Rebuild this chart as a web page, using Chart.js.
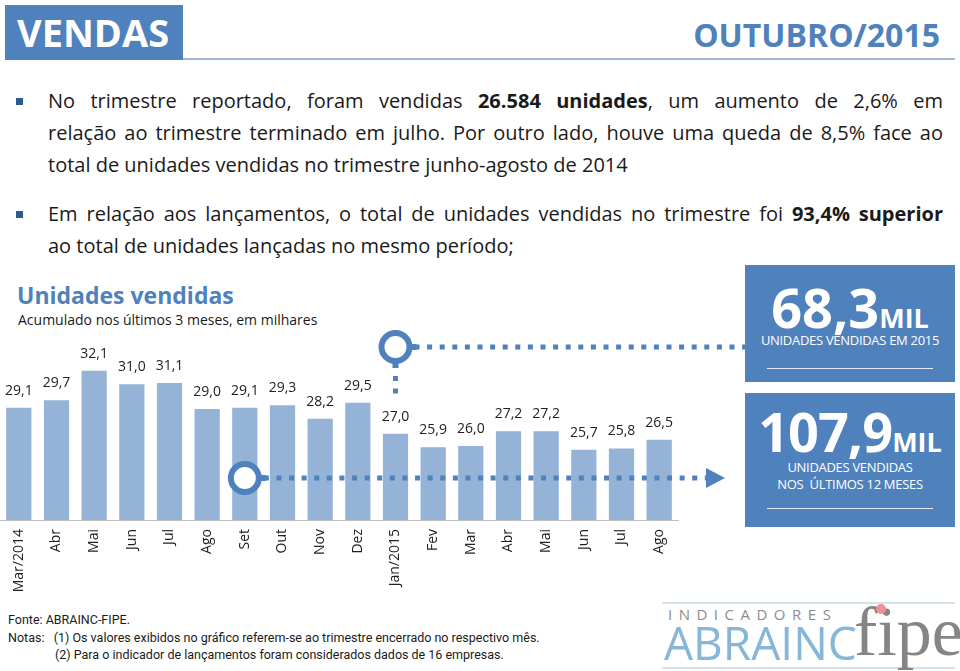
<!DOCTYPE html>
<html lang="pt-BR">
<head>
<meta charset="utf-8">
<title>Vendas - Outubro/2015</title>
<script src="https://cdn.jsdelivr.net/npm/chart.js@4.4.0/dist/chart.umd.min.js"></script>
<style>
  body { margin: 0; background: #fff; font-family: 'Open Sans', sans-serif; color: #1a1a1a; }
  #page { position: relative; width: 960px; height: 671px; overflow: hidden; }
  .abs { position: absolute; white-space: nowrap; }
  #hdrBox { left: 5px; top: 5px; width: 178px; height: 55px; background: #4F81BD; color: #fff;
            font-weight: 700; font-size: 38px; line-height: 55px; padding-left: 12px; box-sizing: border-box; }
  #hdrLine { left: 183px; top: 58px; width: 772px; height: 2px; background: #A3B7CF; }
  #hdrDate { right: 20px; top: 10px; color: #4F81BD; font-weight: 700; font-size: 32px; line-height: 50px; }
  .txt { left: 48px; width: 895px; font-size: 20px; line-height: 32px; text-align: justify; text-align-last: justify; }
  .txt.last { text-align-last: left; }
  .bul { left: 16px; width: 7px; height: 7px; background: #2E5C8A; }
  #title { left: 17px; top: 279px; color: #4F81BD; font-weight: 700; font-size: 23px; line-height: 32px; }
  #subtitle { left: 18px; top: 310px; font-size: 14px; line-height: 20px; color: #1a1a1a; }
  .panel { left: 745px; width: 210px; background: #4F81BD; color: #fff; }
  .panel div { position: absolute; left: 0; width: 210px; text-align: center; }
  .big { font-weight: 700; font-size: 54px; line-height: 54px; }
  .big span { font-size: 27px; line-height: 27px; letter-spacing: 0; }
  .cap { font-size: 13px; line-height: 16.5px; letter-spacing: -0.3px; }
  .panel .rule { left: 22px; width: 166px; height: 1px; background: #e4ecf6; }
  #footer { left: 8px; top: 611px; font-family: Roboto, sans-serif; font-size: 12.5px; line-height: 17.5px; color: #1a1a1a; }
  #chart { position: absolute; left: 0; top: 325px; }
</style>
</head>
<body>
<div id="page">
  <div class="abs" id="hdrBox">VENDAS</div>
  <div class="abs" id="hdrLine"></div>
  <div class="abs" id="hdrDate">OUTUBRO/2015</div>

  <div class="abs bul" style="top:98px"></div>
  <div class="abs txt" style="top:85px">No trimestre reportado, foram vendidas <b>26.584 unidades</b>, um aumento de 2,6% em</div>
  <div class="abs txt" style="top:117px">relação ao trimestre terminado em julho. Por outro lado, houve uma queda de 8,5% face ao</div>
  <div class="abs txt last" style="top:149px">total de unidades vendidas no trimestre junho-agosto de 2014</div>

  <div class="abs bul" style="top:211px"></div>
  <div class="abs txt" style="top:198px">Em relação aos lançamentos, o total de unidades vendidas no trimestre foi <b>93,4% superior</b></div>
  <div class="abs txt last" style="top:230px">ao total de unidades lançadas no mesmo período;</div>

  <div class="abs" id="title">Unidades vendidas</div>
  <div class="abs" id="subtitle">Acumulado nos últimos 3 meses, em milhares</div>

  <canvas id="chart" width="770" height="275"></canvas>

  <div class="abs panel" style="top:265px;height:117px">
    <div class="big" style="top:15px">68,3<span>MIL</span></div>
    <div class="cap" style="top:67px">UNIDADES VENDIDAS EM 2015</div>
    <div class="rule" style="top:103px"></div>
  </div>
  <div class="abs panel" style="top:393px;height:134px">
    <div class="big" style="top:11px;letter-spacing:-1px">107,9<span>MIL</span></div>
    <div class="cap" style="top:66px">UNIDADES VENDIDAS<br>NOS&nbsp; ÚLTIMOS 12 MESES</div>
    <div class="rule" style="top:115px"></div>
  </div>

  <div class="abs" id="footer">Fonte: ABRAINC-FIPE.<br>Notas:&nbsp;&nbsp; (1) Os valores exibidos no gráfico referem-se ao trimestre encerrado no respectivo mês.<br><span style="padding-left:47px">(2) Para o indicador de lançamentos foram considerados dados de 16 empresas.</span></div>

  <!-- logo -->
  <div class="abs" style="left:662px;top:602px;width:293px;height:2px;background:#d3e2ec"></div>
  <div class="abs" style="left:662px;top:667px;width:293px;height:2px;background:#d3e2ec"></div>
  <div class="abs" style="left:668px;top:604px;font-size:15px;line-height:20px;letter-spacing:6.5px;color:#8c8c8c">INDICADORES</div>
  <div class="abs" style="left:664px;top:617px;font-size:46px;line-height:50px;color:#86b6d8">ABRAINC</div>
  <div class="abs" style="left:854px;top:594px;font-family:'Liberation Serif',serif;font-size:70px;line-height:76px;color:#858585">fipe</div>
  <div class="abs" style="left:876px;top:604px;width:10px;height:10px;border-radius:5px;background:#ef8f96"></div>
</div>

<script>
// categories (quarter ending in each month)
const months = ["Mar/2014", "Abr", "Mai", "Jun", "Jul", "Ago", "Set", "Out", "Nov", "Dez",
                "Jan/2015", "Fev", "Mar", "Abr", "Mai", "Jun", "Jul", "Ago"];
// units sold, accumulated over last 3 months (thousands)
const unitsSold = [29.1, 29.7, 32.1, 31.0, 31.1, 29.0, 29.1, 29.3, 28.2, 29.5,
                   27.0, 25.9, 26.0, 27.2, 27.2, 25.7, 25.8, 26.5];

const BLUE = "#4F81BD";

// number labels above each bar
const valueLabels = {
  id: "valueLabels",
  afterDatasetsDraw(chart) {
    const ctx = chart.ctx;
    const meta = chart.getDatasetMeta(0);
    ctx.save();
    ctx.font = "14px 'Open Sans'";
    ctx.fillStyle = "#222";
    ctx.textAlign = "center";
    ctx.textBaseline = "middle";
    meta.data.forEach((bar, i) => {
      ctx.fillText(unitsSold[i].toFixed(1).replace(".", ","), bar.x, bar.y - 17);
    });
    ctx.restore();
  }
};

// dotted callouts with rings and arrow
const callouts = {
  id: "callouts",
  afterDraw(chart) {
    const ctx = chart.ctx;
    const x = chart.scales.x;
    const xSet = x.getPixelForValue(6);   // Set/2014
    const xJan = x.getPixelForValue(10);  // Jan/2015
    const yLow = 153, yTop = 22;

    ctx.save();
    ctx.strokeStyle = BLUE;
    ctx.fillStyle = BLUE;
    ctx.lineWidth = 5;
    ctx.setLineDash([5, 7.6]);

    ctx.beginPath();
    ctx.moveTo(xSet + 19, yLow);
    ctx.lineTo(706, yLow);
    ctx.stroke();

    ctx.beginPath();
    ctx.moveTo(xJan + 19, yTop);
    ctx.lineTo(745, yTop);
    ctx.stroke();

    ctx.beginPath();
    ctx.moveTo(xJan, 51);
    ctx.lineTo(xJan, 70);
    ctx.stroke();

    ctx.setLineDash([]);
    // arrow head
    ctx.beginPath();
    ctx.moveTo(706, yLow - 10);
    ctx.lineTo(725, yLow);
    ctx.lineTo(706, yLow + 10);
    ctx.closePath();
    ctx.fill();

    // rings
    ctx.lineWidth = 6;
    [[xSet, yLow], [xJan, yTop]].forEach(([cx, cy]) => {
      ctx.beginPath();
      ctx.arc(cx, cy, 14, 0, Math.PI * 2);
      ctx.fillStyle = "#fff";
      ctx.fill();
      ctx.stroke();
      ctx.fillStyle = BLUE;
      ctx.fillRect(cx + 16, cy - 3, 5, 6);
    });
    ctx.fillRect(xJan - 3, yTop + 16, 6, 5);
    ctx.restore();
  }
};

Chart.defaults.font.family = "'Open Sans', sans-serif";

new Chart(document.getElementById("chart"), {
  type: "bar",
  data: {
    labels: months,
    datasets: [{
      label: "Unidades vendidas",
      data: unitsSold,
      backgroundColor: "#95B3D7",
      categoryPercentage: 1,
      barPercentage: 0.67
    }]
  },
  options: {
    responsive: false,
    devicePixelRatio: 1,
    animation: false,
    layout: { padding: { left: 0, right: 92, top: 10, bottom: 0 } },
    plugins: { legend: { display: false }, tooltip: { enabled: false } },
    scales: {
      x: {
        grid: { display: false, drawTicks: false },
        border: { display: true, color: "#bfbfbf", width: 1 },
        ticks: { minRotation: 90, maxRotation: 90, padding: 9, color: "#222", font: { size: 14 } },
        afterFit(scale) { scale.height = 80; }
      },
      y: { display: false, min: 20, max: 35 }
    }
  },
  plugins: [valueLabels, callouts]
});
</script>
</body>
</html>
